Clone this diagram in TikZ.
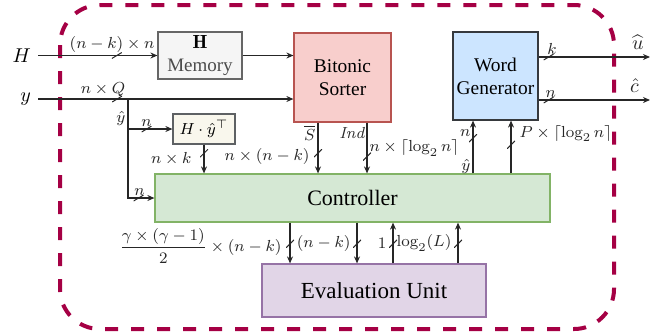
\documentclass[tikz,border=0pt]{standalone}
\usepackage{amsmath}
\usepackage{fontspec}
\usetikzlibrary{arrows.meta}

\newfontfamily\boxfont{Liberation Serif}

\definecolor{memfill}{HTML}{F5F5F5}
\definecolor{memdraw}{HTML}{666666}
\definecolor{sortfill}{HTML}{F8CECC}
\definecolor{sortdraw}{HTML}{B85450}
\definecolor{genfill}{HTML}{CCE5FF}
\definecolor{gendraw}{HTML}{36393D}
\definecolor{prodfill}{HTML}{F9F7ED}
\definecolor{ctrlfill}{HTML}{D5E8D4}
\definecolor{ctrldraw}{HTML}{82B366}
\definecolor{evalfill}{HTML}{E1D5E7}
\definecolor{evaldraw}{HTML}{9673A6}
\definecolor{framecol}{HTML}{A50044}

\begin{document}
\begin{tikzpicture}[x=0.5pt, y=-0.5pt, >={Stealth[length=3.5pt,width=3pt]},
		box/.style={draw, line width=0.6pt, align=center, inner sep=1pt},
		wire/.style={->, line width=0.6pt, color=black!85},
		tick/.style={inner sep=0pt, minimum width=5pt, minimum height=3pt, path picture={\draw[-, line width=0.5pt] (path picture bounding box.south west) -- (path picture bounding box.north east);}},
		vtick/.style={tick, minimum width=4pt, minimum height=4pt},
		lbl/.style={font=\footnotesize, inner sep=1pt}]
		\useasboundingbox (0,0) rectangle (667,333);

		% enclosing frame
		\draw[line width=2pt, color=framecol, dash pattern=on 6.5pt off 6.5pt, rounded corners=20pt] (60,5) rectangle (614,329);

		% blocks
		\node[box, fill=memfill, draw=memdraw, font=\boxfont\fontsize{9.5}{11.5}\selectfont, minimum width=42pt, minimum height=23.5pt](mem) at (200,55.5){$\mathbf{H}$\\ \textcolor{black!70}{Memory}};
		\node[box, fill=sortfill, draw=sortdraw, font=\boxfont\fontsize{9.7}{11.5}\selectfont, minimum width=48.5pt, minimum height=44.5pt](sorter) at (342.5,77.5){Bitonic\\ Sorter};
		\node[box, fill=genfill, draw=gendraw, font=\boxfont\fontsize{9.7}{11.5}\selectfont, minimum width=42.5pt, minimum height=44pt](wordgen) at (495.5,76){Word\\ Generator};
		\node[box, fill=prodfill, draw=gendraw!80, font=\fontsize{8.5}{10}\selectfont, minimum width=31pt, minimum height=15pt](prod) at (204,129){$H\cdot\hat{y}^{\top}$};
		\node[box, fill=ctrlfill, draw=ctrldraw, font=\boxfont\fontsize{11}{13}\selectfont, minimum width=197.5pt, minimum height=24pt](ctrl) at (352.5,198){Controller};
		\node[box, fill=evalfill, draw=evaldraw, font=\boxfont\fontsize{11.5}{13}\selectfont, minimum width=112pt, minimum height=26.5pt](eval) at (374,290.5){Evaluation Unit};

		% inputs and outputs
		\node[anchor=east](hin) at (38,55.5){$H$};
		\node[anchor=east](yin) at (38,99){$y$};
		\coordinate (split) at (128,99);
		\coordinate (uout) at (650,57);
		\coordinate (cout) at (650,100);

		\draw[wire] (hin.east) -- node[tick, pos=0.66]{} node[lbl, above, pos=0.62]{$(n-k)\times n$} (mem.west);
		\draw[wire] (mem.east) -- (mem.east -| sorter.west);
		\draw[wire] (yin.east) -- node[tick, pos=0.31]{} node[lbl, above, pos=0.255]{$n\times Q$} (yin.east -| sorter.west);
		\draw[wire] (split) |- node[lbl, left, pos=0.1]{$\hat{y}$} node[tick, pos=0.7]{} node[lbl, above, pos=0.72]{$n$} (ctrl.west);
		\draw[wire] (split |- prod.west) -- node[tick, pos=0.42]{} node[lbl, above, pos=0.42]{$n$} (prod.west);

		% into the controller
		\draw[wire] (prod.south) -- node[vtick, pos=0.3]{} node[lbl, left=5pt, pos=0.5]{$n\times k$} (prod.south |- ctrl.north);
		\draw[wire] ([xshift=-12.25pt]sorter.south) -- node[lbl, left, pos=0.2]{$\overline{S}$} node[vtick, pos=0.6]{} node[lbl, left=3pt, pos=0.66]{$n\times(n-k)$} ([xshift=-12.25pt]sorter.south |- ctrl.north);
		\draw[wire] ([xshift=12.25pt]sorter.south) -- node[lbl, left, pos=0.2]{$\mathit{Ind}$} node[vtick, pos=0.67]{} node[lbl, right, pos=0.5]{$n\times\lceil\log_2 n\rceil$} ([xshift=12.25pt]sorter.south |- ctrl.north);

		% controller to word generator
		\draw[wire] ([xshift=-11.25pt]wordgen.south |- ctrl.north) -- node[lbl, left, pos=0.13]{$\hat{y}$} node[vtick, pos=0.67]{} node[lbl, left, pos=0.76]{$n$} ([xshift=-11.25pt]wordgen.south);
		\draw[wire] ([xshift=7.75pt]wordgen.south |- ctrl.north) -- node[vtick, pos=0.54]{} node[lbl, right=3pt, pos=0.76]{$P\times\lceil\log_2 n\rceil$} ([xshift=7.75pt]wordgen.south);

		% outputs
		\draw[wire] ([yshift=9.5pt]wordgen.east) -- node[tick, pos=0.09]{} node[lbl, above, pos=0.12]{$k$} node[above, pos=0.89]{$\widehat{u}$} (uout);
		\draw[wire] ([yshift=-12pt]wordgen.east) -- node[tick, pos=0.09]{} node[lbl, above, pos=0.11]{$n$} node[above, pos=0.86]{$\hat{c}$} (cout);

		% controller and evaluation unit
		\draw[wire] ([xshift=-42pt]eval.north |- ctrl.south) -- node[vtick, pos=0.52]{} node[lbl, left=3pt, pos=0.57]{$\dfrac{\gamma\times(\gamma-1)}{2}\times(n-k)$} ([xshift=-42pt]eval.north);
		\draw[wire] ([xshift=-8.5pt]eval.north |- ctrl.south) -- node[vtick, pos=0.52]{} node[lbl, left=2pt, pos=0.5]{$(n-k)$} ([xshift=-8.5pt]eval.north);
		\draw[wire] ([xshift=9.5pt]eval.north) -- node[vtick, pos=0.48]{} node[lbl, left=2pt, pos=0.5]{$1$} ([xshift=9.5pt]eval.north |- ctrl.south);
		\draw[wire] ([xshift=42pt]eval.north) -- node[vtick, pos=0.48]{} node[lbl, left=2pt, pos=0.5]{$\log_2(L)$} ([xshift=42pt]eval.north |- ctrl.south);

	\end{tikzpicture}
\end{document}
